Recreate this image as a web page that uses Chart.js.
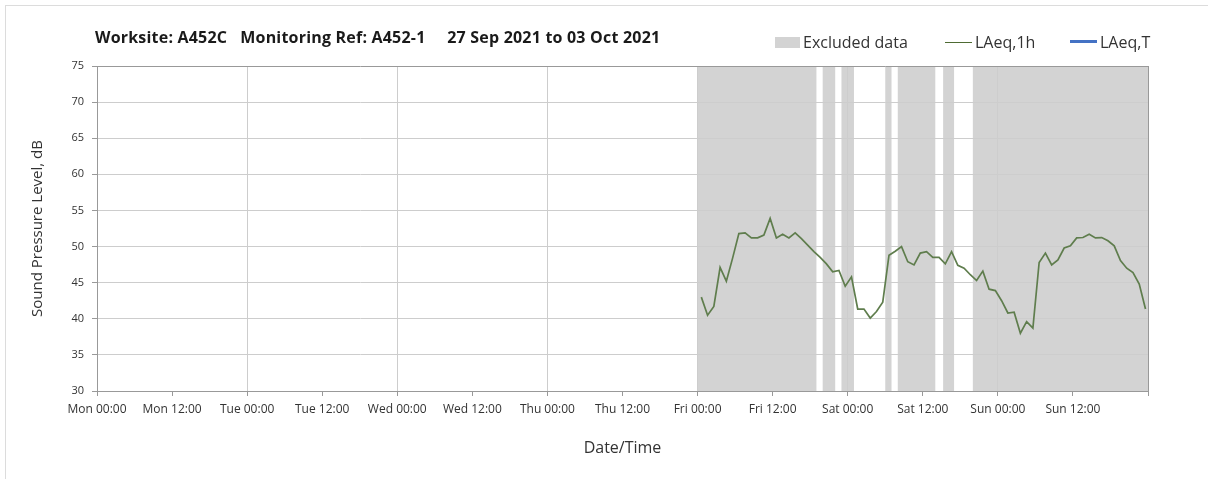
<!DOCTYPE html>
<html>
<head>
<meta charset="utf-8">
<script src="https://cdn.jsdelivr.net/npm/chart.js@4"></script>
<style>
  html, body { margin: 0; padding: 0; background: #fff; }
  body { width: 1208px; height: 479px; position: relative; overflow: hidden; font-family: 'Open Sans', sans-serif; }
  #frame { position: absolute; left: 5px; top: 5px; width: 1300px; height: 600px; border: 1px solid #dcdcdc; }
  #wrap { position: absolute; left: 0; top: 0; width: 1208px; height: 479px; }
  #title { position: absolute; left: 95px; top: 26px; font-size: 16px; letter-spacing: 0.2px; font-weight: bold; color: #1a1a1a; white-space: pre; }
  .legend { position: absolute; top: 31px; font-size: 16px; color: #333; white-space: nowrap; }
  .swatch { position: absolute; }
</style>
</head>
<body>
<div id="frame"></div>
<div id="wrap"><canvas id="chart" width="1208" height="479"></canvas></div>
<div id="title">Worksite: A452C   Monitoring Ref: A452-1     27 Sep 2021 to 03 Oct 2021</div>
<div class="swatch" style="left:775px;top:37px;width:25px;height:11px;background:#d3d3d3"></div>
<div class="legend" style="left:803px">Excluded data</div>
<div class="swatch" style="left:945px;top:42px;width:27px;height:1px;background:#4e6b33"></div>
<div class="legend" style="left:975px">LAeq,1h</div>
<div class="swatch" style="left:1070px;top:40px;width:27px;height:3px;background:#4472c4"></div>
<div class="legend" style="left:1100px">LAeq,T</div>
<script>
// hours counted from Mon 00:00
const tickLabels = ['Mon 00:00', 'Mon 12:00', 'Tue 00:00', 'Tue 12:00', 'Wed 00:00', 'Wed 12:00', 'Thu 00:00',
  'Thu 12:00', 'Fri 00:00', 'Fri 12:00', 'Sat 00:00', 'Sat 12:00', 'Sun 00:00', 'Sun 12:00'];

const excludedStart = [96, 116, 119, 126, 128, 135.25, 140];
const excludedEnd = [115, 118, 121, 127, 134, 137, 168];

// hourly LAeq,1h from Fri 00:30
const firstHour = 96.6;
const laeqValues = [43.0, 40.5, 41.7, 47.1, 45.2, 48.4, 51.8, 51.9, 51.2, 51.2,
  51.6, 53.9, 51.2, 51.7, 51.2, 51.9, 51.1, 50.2, 49.3, 48.5,
  47.6, 46.5, 46.7, 44.5, 45.8, 41.35, 41.35, 40.1, 41.0, 42.3,
  48.8, 49.35, 50.0, 47.9, 47.45, 49.1, 49.3, 48.5, 48.5, 47.6,
  49.3, 47.4, 47.0, 46.1, 45.3, 46.6, 44.1, 43.9, 42.5, 40.8,
  40.9, 38.0, 39.6, 38.7, 47.8, 49.1, 47.45, 48.15, 49.8, 50.1,
  51.2, 51.25, 51.7, 51.2, 51.25, 50.8, 50.1, 48.05, 47.0, 46.4,
  44.8, 41.35];
const laeqTValues = [];

const excludedBands = {
  id: 'excludedBands',
  beforeDraw(chart) {
    const { ctx, chartArea, scales } = chart;
    ctx.save();
    ctx.fillStyle = '#d3d3d3';
    excludedStart.forEach((start, i) => {
      const x1 = scales.x.getPixelForValue(start);
      const x2 = scales.x.getPixelForValue(excludedEnd[i]);
      ctx.fillRect(x1, chartArea.top, x2 - x1, chartArea.bottom - chartArea.top);
    });
    ctx.restore();
  }
};

new Chart(document.getElementById('chart'), {
  type: 'line',
  data: {
    datasets: [{
      label: 'LAeq,1h',
      data: laeqValues.map((v, i) => ({ x: firstHour + i, y: v })),
      borderColor: '#5f7d4d',
      borderWidth: 1.7,
      pointRadius: 0,
      tension: 0,
      fill: false
    }, {
      label: 'LAeq,T',
      data: laeqTValues,
      borderColor: '#4472c4',
      borderWidth: 3,
      pointRadius: 0
    }]
  },
  options: {
    responsive: false,
    animation: false,
    layout: { padding: { left: 0, top: 66, right: 60, bottom: 0 } },
    plugins: { legend: { display: false }, tooltip: { enabled: false } },
    scales: {
      x: {
        type: 'linear',
        min: 0,
        max: 168,
        afterFit: (s) => { s.height = 88; },
        ticks: {
          stepSize: 12,
          autoSkip: false,
          maxRotation: 0,
          padding: 6,
          color: '#333',
          font: { family: "'Open Sans', sans-serif", size: 12 },
          callback: (v) => tickLabels[v / 12] || ''
        },
        grid: {
          color: (c) => c.tick && c.tick.value === 168 ? '#999' : (c.tick && c.tick.value % 24 === 0 ? '#cdcdcd' : 'transparent'),
          tickColor: '#999',
          tickLength: 5
        },
        border: { color: '#999' },
        title: {
          display: true,
          text: 'Date/Time',
          color: '#333',
          font: { family: "'Open Sans', sans-serif", size: 16 },
          padding: { top: 0, bottom: 21 }
        }
      },
      y: {
        min: 30,
        max: 75,
        afterFit: (s) => { s.width = 97; },
        ticks: { stepSize: 5, padding: 8, color: '#333', font: { family: "'Open Sans', sans-serif", size: 11 } },
        grid: {
          color: (c) => c.tick && c.tick.value === 75 ? '#999' : '#cdcdcd',
          tickColor: '#999',
          tickLength: 5
        },
        border: { color: '#999' },
        title: {
          display: true,
          text: 'Sound Pressure Level, dB',
          color: '#333',
          font: { family: "'Open Sans', sans-serif", size: 15 },
          padding: { top: 29, bottom: 0 }
        }
      }
    }
  },
  plugins: [excludedBands]
});
</script>
</body>
</html>
